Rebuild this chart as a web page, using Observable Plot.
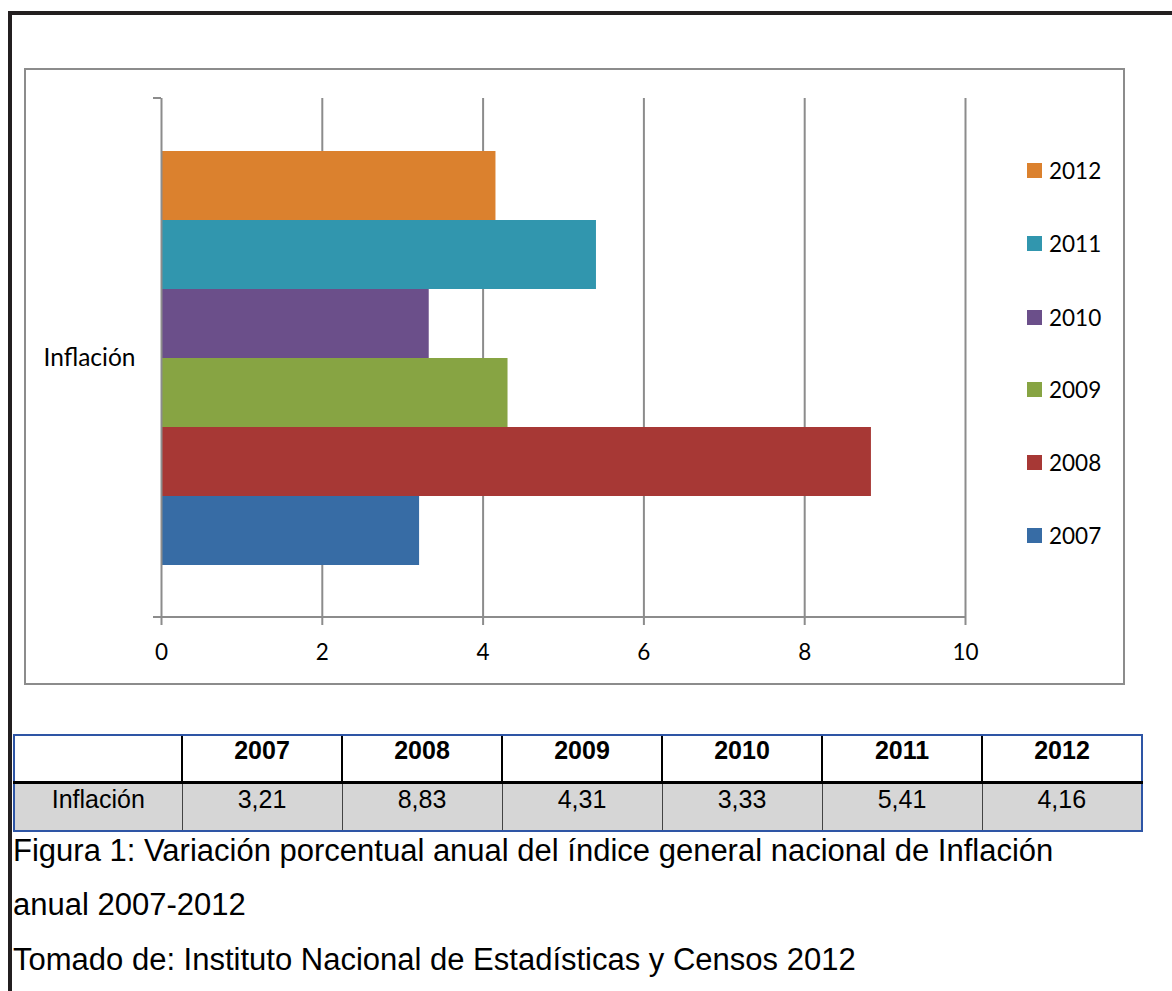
<!DOCTYPE html>
<html><head><meta charset="utf-8">
<script src="https://cdn.jsdelivr.net/npm/d3@7"></script>
<script src="https://cdn.jsdelivr.net/npm/@observablehq/plot@0.6"></script>
<style>
html,body{margin:0;padding:0;background:#fff;}
body{width:1172px;height:991px;position:relative;overflow:hidden;font-family:"Liberation Sans",Arial,sans-serif;color:#000;}
#outerTop{position:absolute;left:8px;top:11px;width:1164px;height:4px;background:#231f20;}
#outerLeft{position:absolute;left:8px;top:11px;width:4px;height:980px;background:#231f20;}
#frame{position:absolute;left:24px;top:68px;width:1097px;height:613px;border:2px solid #8c8c8c;}
#chart{position:absolute;left:24px;top:68px;}
#chart svg text{fill:#000;}
#legend{position:absolute;left:1027px;top:0;font-family:Lato,sans-serif;font-size:22.5px;}
.li{position:absolute;left:0;display:flex;align-items:center;height:30px;white-space:nowrap;}
.sw{width:15px;height:15px;margin-right:7px;}
#tbl{position:absolute;left:13px;top:734px;border-collapse:collapse;table-layout:fixed;font-size:25px;}
#tbl th,#tbl td{padding:0;text-align:center;vertical-align:top;line-height:25px;box-sizing:border-box;}
#tbl th{height:47px;padding-top:2px;font-weight:bold;border-left:2px solid #000;border-top:2px solid #2E55A5;border-bottom:3px solid #000;background:#fff;}
#tbl td{height:49px;padding-top:3px;background:#D6D6D6;border-left:1.5px solid #444;border-bottom:2px solid #2E55A5;font-weight:normal;}
#tbl tr > :first-child{border-left:2px solid #2E55A5;}
#tbl tr > :last-child{border-right:2px solid #2E55A5;}
#tbl tr:first-child > :first-child{border-top:2px solid #8FA3D0;}
.cap{position:absolute;left:13px;font-size:31px;white-space:nowrap;line-height:31px;}
</style>
</head><body>
<div id="outerTop"></div><div id="outerLeft"></div>
<div id="frame"></div>
<div id="chart"></div>
<div id="legend"></div>
<table id="tbl"></table>
<div class="cap" id="cap1"></div>
<div class="cap" id="cap2"></div>
<div class="cap" id="cap3"></div>
<script>
// ---- data ----
const years = ["2007", "2008", "2009", "2010", "2011", "2012"];
const inflation = [3.21, 8.83, 4.31, 3.33, 5.41, 4.16];
const inflationLabels = ["3,21", "8,83", "4,31", "3,33", "5,41", "4,16"];
const colors = ["#376CA5", "#A73835", "#87A443", "#6B4F8A", "#3196AE", "#DB812E"];
const category = "Inflación";
const xTicks = [0, 2, 4, 6, 8, 10];
const captionLines = [
  "Figura 1: Variación porcentual anual del índice general nacional de Inflación",
  "anual 2007-2012",
  "Tomado de: Instituto Nacional de Estadísticas y Censos 2012"
];

const data = years.map((y, i) => ({year: y, value: inflation[i]}));
const gridColor = "#8c8c8c";

const chart = Plot.plot({
  width: 1101, height: 617,
  marginLeft: 137, marginRight: 160, marginTop: 30, marginBottom: 68,
  style: {fontFamily: "Lato, sans-serif", fontSize: "22.5px", background: "transparent", color: "#000"},
  x: {domain: [0, 10], ticks: xTicks, tickSize: 0, tickPadding: 27, label: null},
  y: {domain: years.slice().reverse(), paddingInner: 0, paddingOuter: 0.735, axis: null},
  color: {domain: years, range: colors},
  marks: [
    Plot.ruleX(xTicks.filter(d => d !== 0), {x: d => d, stroke: gridColor, strokeWidth: 2, insetBottom: -8}),
    Plot.barX(data, {x: "value", y: "year", fill: "year"}),
    Plot.ruleX([0], {x: d => d, stroke: gridColor, strokeWidth: 2, insetBottom: -8}),
    Plot.text([category], {text: d => d, frameAnchor: "left", textAnchor: "end", dx: -26, fill: "#000", fontSize: 24.5})
  ]
});
document.getElementById("chart").appendChild(chart);

// axis baseline and category-axis end ticks, from the plot's scales
const xs = chart.scale("x").range, ys = chart.scale("y").range;
const svg = d3.select(chart);
const yb = Math.max(...ys), yt = Math.min(...ys), x0 = Math.min(...xs), x1 = Math.max(...xs);
svg.append("line").attr("x1", x0 - 8).attr("x2", x1).attr("y1", yb).attr("y2", yb)
  .attr("stroke", gridColor).attr("stroke-width", 2);
svg.append("line").attr("x1", x0 - 8).attr("x2", x0).attr("y1", yt).attr("y2", yt)
  .attr("stroke", gridColor).attr("stroke-width", 2);

// legend (top to bottom: 2012 ... 2007)
const legendTops = [155, 228, 302, 374, 447, 520];
const lg = d3.select("#legend");
years.slice().reverse().forEach((y, i) => {
  const c = colors[years.indexOf(y)];
  const row = lg.append("div").attr("class", "li").style("top", legendTops[i] + "px");
  row.append("div").attr("class", "sw").style("background", c);
  row.append("span").text(y);
});

// table
const tbl = d3.select("#tbl");
const cg = tbl.append("colgroup");
cg.append("col").style("width", "168px");
years.forEach(() => cg.append("col").style("width", "160px"));
const hr = tbl.append("tr");
hr.append("th").html("&nbsp;");
years.forEach(y => hr.append("th").text(y));
const dr = tbl.append("tr");
dr.append("td").text(category);
inflationLabels.forEach(v => dr.append("td").text(v));

// caption
const capTops = [835, 889, 944];
captionLines.forEach((t, i) => {
  const el = document.getElementById("cap" + (i + 1));
  el.textContent = t;
  el.style.top = capTops[i] + "px";
});
</script>
</body></html>
